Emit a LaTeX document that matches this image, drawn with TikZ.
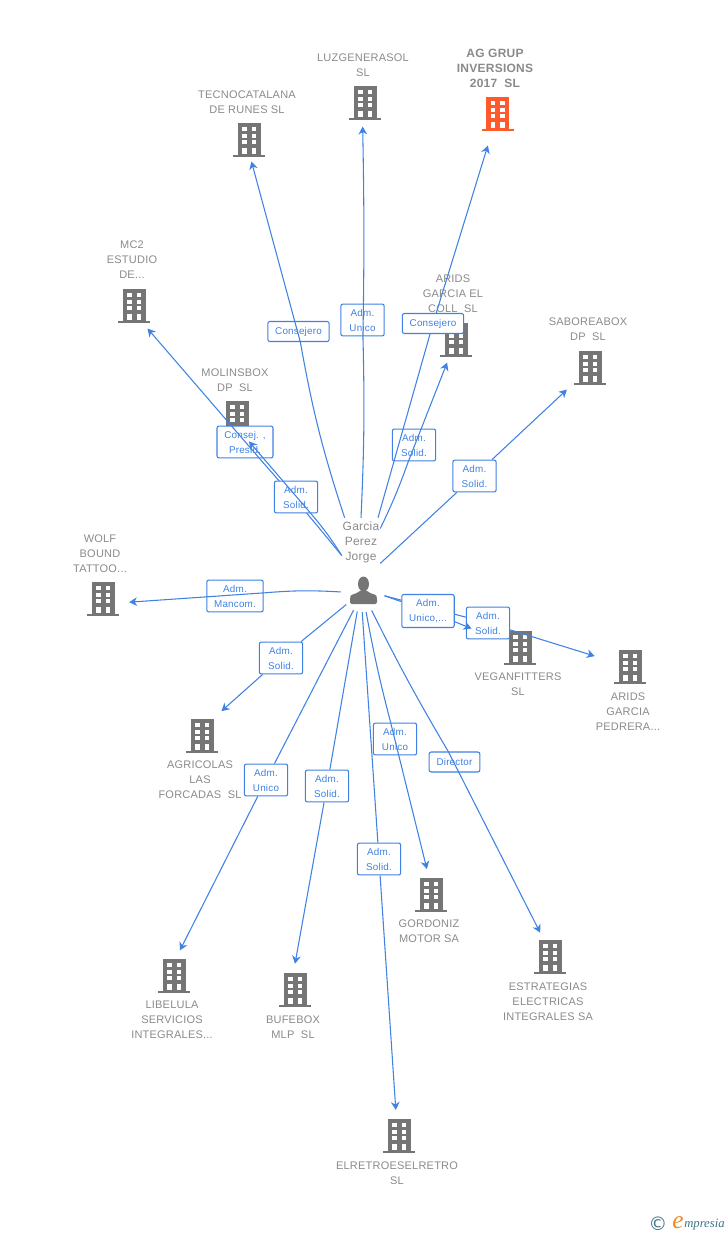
\documentclass[tikz,border=0pt]{standalone}
\usepackage{fontspec}
\setmainfont[LetterSpace=2]{Liberation Sans}
\newfontfamily\symbfont{DejaVu Sans}
\newfontfamily\logofont{Liberation Serif}
\usetikzlibrary{positioning}
\usetikzlibrary{arrows.meta}
\definecolor{linkblue}{HTML}{3F82E4}
\definecolor{sitegray}{HTML}{757575}
\definecolor{textgray}{HTML}{8A8A8A}
\definecolor{siteorange}{HTML}{FF5A2C}
\definecolor{logoteal}{HTML}{3F7488}
\definecolor{logoorange}{HTML}{F08A24}
\tikzset{x=0.75pt, y=-0.75pt,
	site/.style={
		circle,
		minimum size=39pt,
		inner sep=0pt},
	sitetext/.style={
		align=center,
		text=textgray,
		inner sep=0pt,
		font=\fontsize{8.25}{11.25}\selectfont},
	hubtext/.style={
		sitetext,
		minimum width=28.5pt,
		minimum height=36pt,
		font=\fontsize{9}{11.25}\selectfont},
	role/.style={
		draw=linkblue,
		fill=white,
		line width=0.8pt,
		rounded corners=1.5pt,
		align=center,
		text=linkblue,
		inner xsep=5.5pt,
		inner ysep=3.6pt,
		minimum width=32.5pt,
		minimum height=15pt,
		font=\fontsize{7.4}{11.25}\selectfont},
	link/.style={
		draw=linkblue,
		line width=0.8pt,
		-{Stealth[length=6pt,width=6.5pt]}},
	pics/bldg/.style={code={
		\fill[#1] (-11.5,-17) rectangle (11.5,15);
		\fill[#1] (-16,15) rectangle (16,17);
		\foreach \wx in {-7,2.5} {
			\fill[white] (\wx,-13) rectangle (\wx+4.5,-9);
			\fill[white] (\wx,-6.5) rectangle (\wx+4.5,-2.5);
			\fill[white] (\wx,0) rectangle (\wx+4.5,4);
			\fill[white] (\wx,7.5) rectangle (\wx+4.5,14);
		}
	}}
}

\begin{document}
\begin{tikzpicture}
	\useasboundingbox (0,0) rectangle (728,1235);
	% companies
	\node[site] (ag) at (497.5,114) {};
	\pic at (ag) {bldg=siteorange};
	\node[sitetext, font=\fontsize{9}{11.25}\selectfont\bfseries] (agname) at (495,68) {AG GRUP\\INVERSIONS\\2017~~SL};
	\node[site] (luz) at (365,103) {};
	\pic at (luz) {bldg=sitegray};
	\node[sitetext] (luzname) at (363,65) {LUZGENERASOL\\SL};
	\node[site] (tecno) at (249,140) {};
	\pic at (tecno) {bldg=sitegray};
	\node[sitetext] (tecnoname) at (247,102) {TECNOCATALANA\\DE RUNES SL};
	\node[site] (mctwo) at (134,306) {};
	\pic at (mctwo) {bldg=sitegray};
	\node[sitetext] (mctwoname) at (132,260) {MC2\\ESTUDIO\\DE...};
	\node[site] (coll) at (456,340) {};
	\pic at (coll) {bldg=sitegray};
	\node[sitetext] (collname) at (453,294) {ARIDS\\GARCIA EL\\COLL~~SL};
	\node[site] (sabor) at (590,368) {};
	\pic at (sabor) {bldg=sitegray};
	\node[sitetext] (saborname) at (588,329) {SABOREABOX\\DP~~SL};
	\node[site] (molins) at (237,418) {};
	\pic at (molins) {bldg=sitegray};
	\node[sitetext] (molinsname) at (235,380) {MOLINSBOX\\DP~~SL};
	\node[site] (wolf) at (103,599) {};
	\pic at (wolf) {bldg=sitegray};
	\node[sitetext] (wolfname) at (100,554) {WOLF\\BOUND\\TATTOO...};
	\node[site] (vegan) at (520,648) {};
	\pic at (vegan) {bldg=sitegray};
	\node[sitetext] (veganname) at (518,684) {VEGANFITTERS\\SL};
	\node[site] (pedrera) at (630,667) {};
	\pic at (pedrera) {bldg=sitegray};
	\node[sitetext] (pedreraname) at (628,712) {ARIDS\\GARCIA\\PEDRERA...};
	\node[site] (agri) at (202,736) {};
	\pic at (agri) {bldg=sitegray};
	\node[sitetext] (agriname) at (200,780) {AGRICOLAS\\LAS\\FORCADAS~~SL};
	\node[site] (libel) at (174,976) {};
	\pic at (libel) {bldg=sitegray};
	\node[sitetext] (libelname) at (172,1020) {LIBELULA\\SERVICIOS\\INTEGRALES...};
	\node[site] (bufe) at (295,990) {};
	\pic at (bufe) {bldg=sitegray};
	\node[sitetext] (bufename) at (293,1027) {BUFEBOX\\MLP~~SL};
	\node[site] (gordo) at (431,895) {};
	\pic at (gordo) {bldg=sitegray};
	\node[sitetext] (gordoname) at (429,931) {GORDONIZ\\MOTOR SA};
	\node[site] (estra) at (550,957) {};
	\pic at (estra) {bldg=sitegray};
	\node[sitetext] (estraname) at (548,1002) {ESTRATEGIAS\\ELECTRICAS\\INTEGRALES SA};
	\node[site] (retro) at (399,1136) {};
	\pic at (retro) {bldg=sitegray};
	\node[sitetext] (retroname) at (397,1173) {ELRETROESELRETRO\\SL};
	% person
	\node[hubtext] (hubname) at (361,542) {Garcia\\Perez\\Jorge};
	\node[circle, minimum size=33pt, inner sep=0pt] (hub) at (363,590) {};
	\fill[sitegray] (363.5,584) ellipse (5.5 and 7.5);
	\fill[sitegray, rounded corners=1.5pt] (350,604) -- (350,598) .. controls (351,594) and (357,594) .. (360,590) -- (367,590) .. controls (370,594) and (376,594) .. (377,598) -- (377,604) -- cycle;
	% links, lower ones first
	\node[role] (r7) at (245,442) {Consej. ,\\Presid.};
	\draw[link] (hubname.215) to[bend right=1] (r7) to (mctwo.-59);
	\node[role] (r6) at (296,497) {Adm.\\Solid.};
	\draw[link] (hubname.215) to[bend right=4] (r6) to (molins.-63);
	\node[role] (r1) at (298.5,331.5) {Consejero};
	\draw[link, shorten >=-3.5pt] (hubname.124) to[bend left=4] (r1) to (tecno.-82);
	\node[role] (r2) at (362.5,320) {Adm.\\Unico};
	\draw[link, shorten >=-2pt] (hubname.90) to[bend right=2] (r2) to[bend right=1] (luz.-95);
	\node[role] (r4) at (414,445) {Adm.\\Solid.};
	\draw[link, shorten >=-1.5pt] (hubname.35) to[bend right=3] (r4) to (coll);
	\node[role] (r3) at (433,323.5) {Consejero};
	\draw[link, shorten >=5pt] (hubname.55) to (r3) to (ag.-107);
	\node[role] (r5) at (474.5,476) {Adm.\\Solid.};
	\draw[link, shorten >=4pt] (hubname.-48) to (r5) to (sabor);
	\node[role] (r8) at (235,596) {Adm.\\Mancom.};
	\draw[link] (hub.185) to[bend right=4] (r8) to (wolf.-7);
	\node[role] (r9) at (281,658) {Adm.\\Solid.};
	\draw[link, shorten >=4pt] (hub.221) to (r9) to (agri.54);
	\node[role] (r10) at (266,780) {Adm.\\Unico};
	\draw[link] (hub.245) to (r10) to (libel.77);
	\node[role] (r11) at (327,786) {Adm.\\Solid.};
	\draw[link] (hub.255) to (r11) to (bufe.90);
	\node[role] (r12) at (379,859) {Adm.\\Solid.};
	\draw[link] (hub.268) to (r12) to (retro.97);
	\node[role] (r13) at (395,739) {Adm.\\Unico};
	\draw[link] (hub.278) to[bend right=2] (r13) to (gordo.99);
	\node[role] (r14) at (454.5,762) {Director};
	\draw[link] (hub.293) to[bend right=2] (r14) to (estra.112);
	\node[role] (r16) at (488,623) {Adm.\\Solid.};
	\draw[link, shorten >=8pt] (hub.-15) to (r16) to (pedrera);
	\node[role] (r15) at (428,611) {Adm.\\Unico,...};
	\draw[link, shorten >=19.5pt] (hub.-15) to (r15) to (vegan);
	% logo
	\node[inner sep=0pt, text=logoteal, font=\symbfont\fontsize{14}{14}\selectfont] (copy) at (658,1224) {©};
	\node[inner sep=0pt, text=logoorange, font=\logofont\itshape\fontsize{19}{19}\selectfont] (logoe) at (678,1223) {e};
	\node[inner sep=0pt, anchor=west, text=logoteal, font=\logofont\itshape\fontsize{9.5}{10}\selectfont] (logotext) at (684,1225) {mpresia};
\end{tikzpicture}
\end{document}
